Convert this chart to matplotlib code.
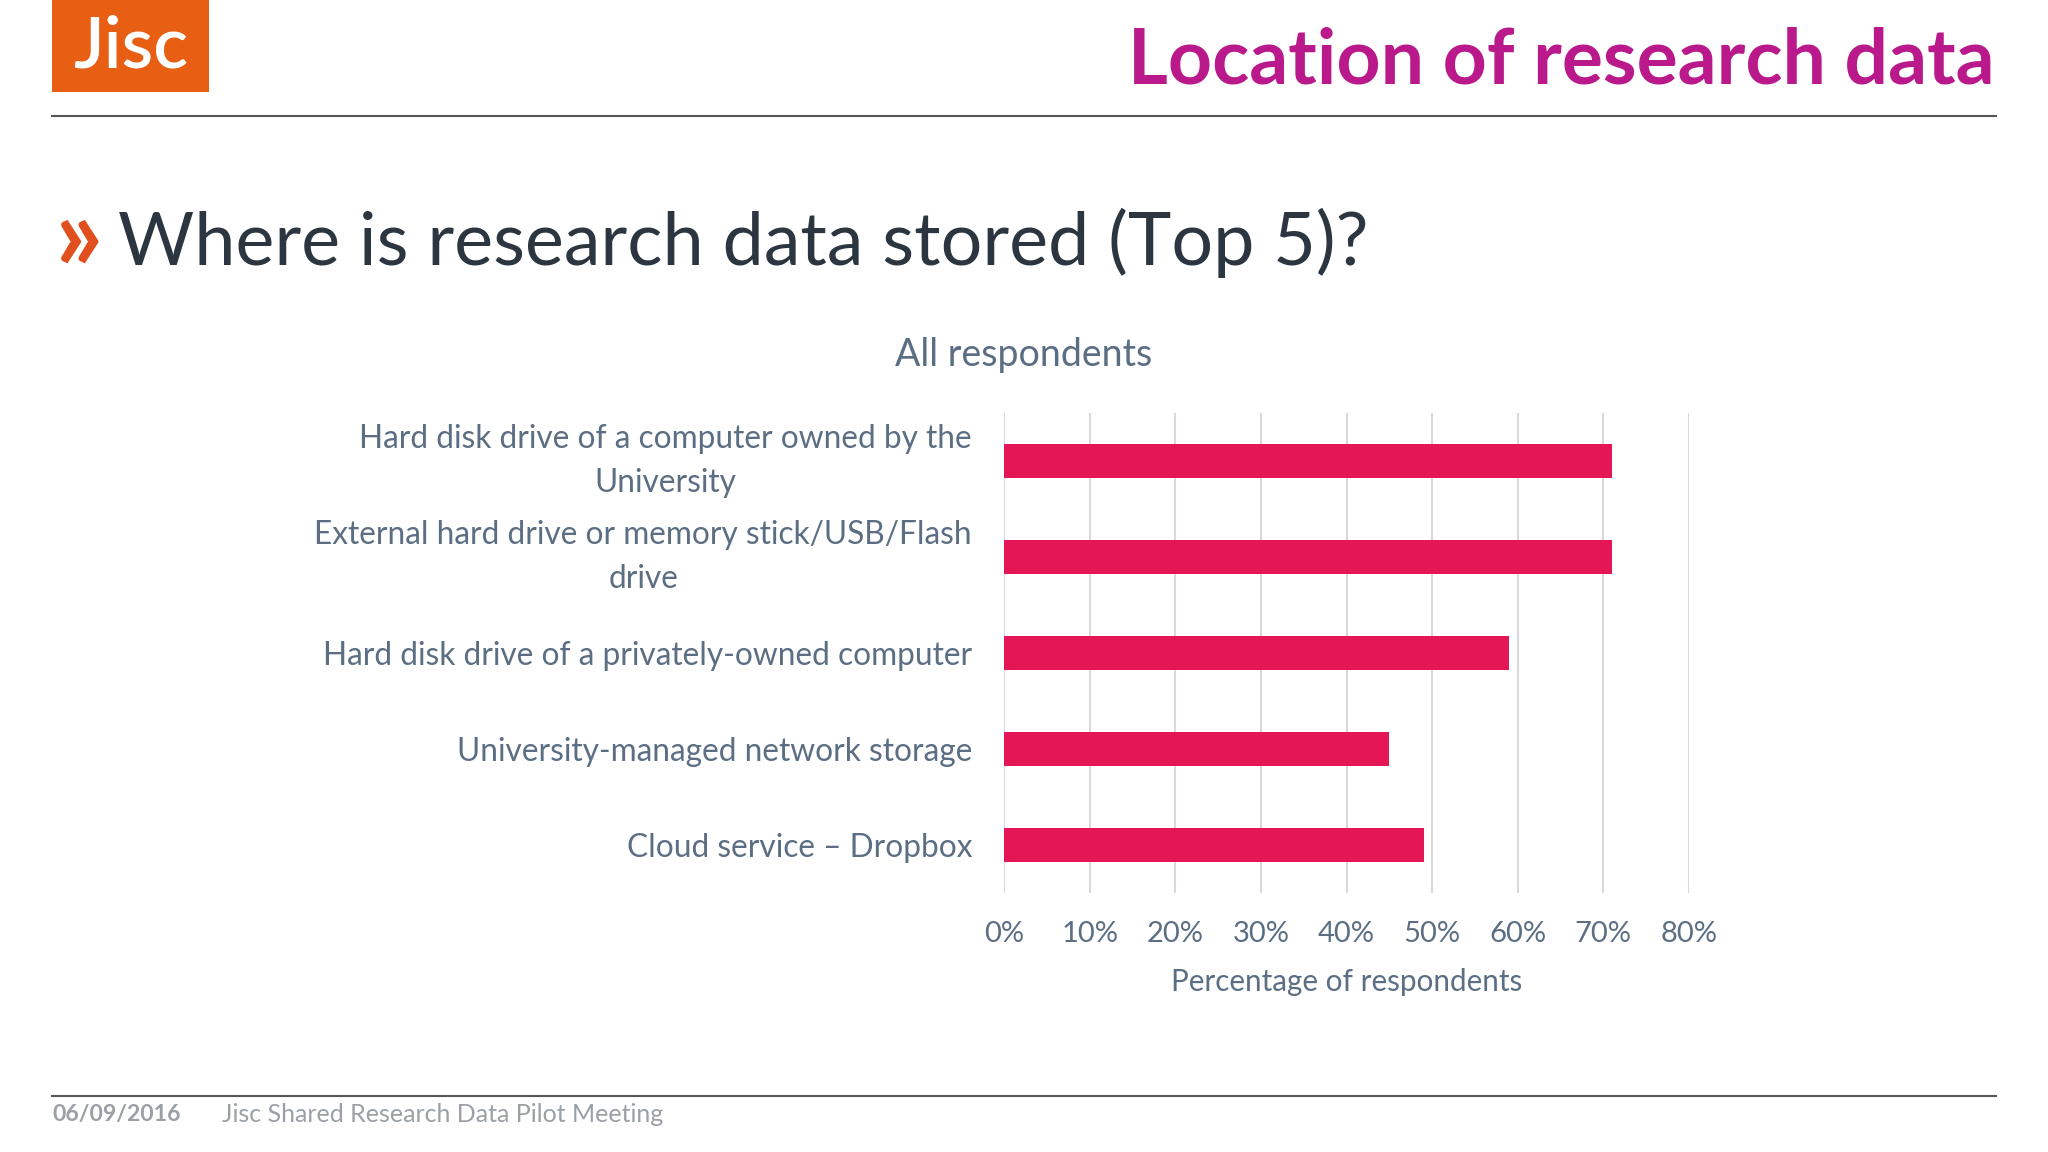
import matplotlib
matplotlib.use("Agg")
import matplotlib.pyplot as plt
from matplotlib.patches import Rectangle
from matplotlib.ticker import PercentFormatter

categories = [
    "Hard disk drive of a computer owned by the\nUniversity",
    "External hard drive or memory stick/USB/Flash\ndrive",
    "Hard disk drive of a privately-owned computer",
    "University-managed network storage",
    "Cloud service \u2013 Dropbox",
]
values = [0.71, 0.71, 0.59, 0.45, 0.49]
xticks = [0, 0.1, 0.2, 0.3, 0.4, 0.5, 0.6, 0.7, 0.8]

FONT = "Lato"
W, H = 2048, 1152
TEXT = "#5b6e83"
BAR = "#e41655"

fig = plt.figure(figsize=(W / 100, H / 100), dpi=100)
fig.patch.set_facecolor("white")

def fx(x):
    return x / W

def fy(y):
    return 1 - y / H

# Logo
fig.patches.append(Rectangle((fx(52), fy(92)), fx(209) - fx(52), fy(0) - fy(92),
                             transform=fig.transFigure, facecolor="#e85e13", edgecolor="none"))
fig.text(fx(131), fy(47), "Jisc", color="white", fontsize=52, fontfamily=FONT,
         fontweight="semibold", ha="center", va="center")

# Header title + rule
fig.text(fx(1995), fy(61), "Location of research data", color="#b9198a", fontsize=55.4,
         fontfamily=FONT, fontweight="bold", ha="right", va="center")
fig.add_artist(plt.Line2D([fx(52), fx(1996)], [fy(116), fy(116)], transform=fig.transFigure,
                          color="#555555", linewidth=1.5))

# Slide heading
fig.text(fx(54), fy(240), "\u00bb", color="#e0501e", fontsize=76, fontfamily=FONT,
         fontweight="bold", ha="left", va="center")
fig.text(fx(118), fy(243), "Where is research data stored (Top 5)?", color="#2c3640",
         fontsize=53, fontfamily=FONT, ha="left", va="center")

# Chart
ax = fig.add_axes([fx(1004), fy(893), fx(1689) - fx(1004), fy(413) - fy(893)])
ypos = list(range(len(categories)))
ax.barh(ypos, values, height=0.35, color=BAR, zorder=3)
ax.set_ylim(len(categories) - 0.5, -0.5)
ax.set_xlim(0, 0.8)
ax.set_xticks(xticks)
ax.xaxis.set_major_formatter(PercentFormatter(1.0, decimals=0))
ax.set_yticks(ypos)
ax.set_yticklabels(categories, fontsize=22.8, fontfamily=FONT, color=TEXT, ha="right",
                   multialignment="center", linespacing=1.55)
for lab in ax.get_yticklabels():
    if "\n" in lab.get_text():
        lab.set_va("center")
for lab in ax.get_xticklabels():
    lab.set_fontsize(21)
    lab.set_fontfamily(FONT)
    lab.set_color(TEXT)
ax.tick_params(axis="y", length=0, pad=23)
ax.tick_params(axis="x", length=0, pad=20)
ax.grid(axis="x", color="#d9d9d9", linewidth=1.5, zorder=0)
for s in ax.spines.values():
    s.set_visible(False)
ax.set_xlabel("Percentage of respondents", fontsize=21.3, fontfamily=FONT, color=TEXT,
              labelpad=15)
fig.text(fx(1024), fy(355), "All respondents", color=TEXT, fontsize=27, fontfamily=FONT,
         ha="center", va="center")

# Footer
fig.add_artist(plt.Line2D([fx(52), fx(1996)], [fy(1096), fy(1096)], transform=fig.transFigure,
                          color="#555555", linewidth=1.5))
fig.text(fx(52), fy(1115), "06/09/2016", color="#9aa0a6", fontsize=16.6, fontfamily=FONT,
         fontweight="bold", ha="left", va="center")
fig.text(fx(222), fy(1115), "Jisc Shared Research Data Pilot Meeting", color="#9aa0a6",
         fontsize=18, fontfamily=FONT, ha="left", va="center")

fig.savefig("out.png", dpi=100, facecolor="white")
